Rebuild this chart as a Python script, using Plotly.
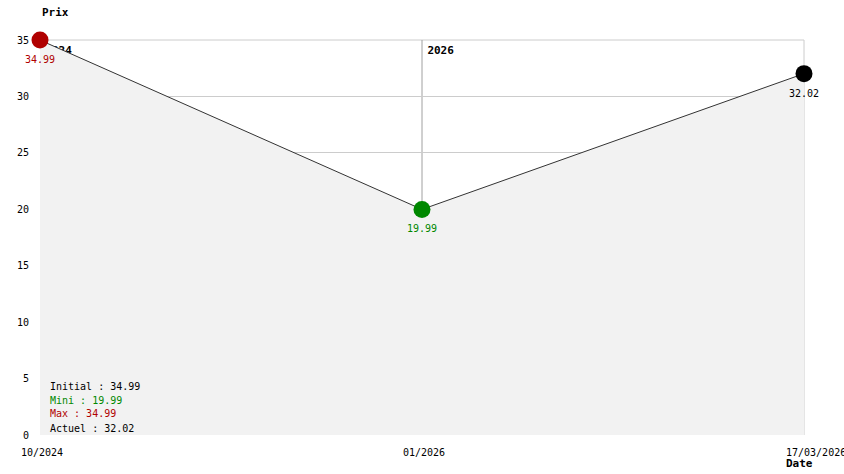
import plotly.graph_objects as go

# ---- data ----
x_index = [0, 1, 2]
date_labels = ["10/2024", "01/2026", "17/03/2026"]
prices = [34.99, 19.99, 32.02]
point_colors = ["#b00000", "#008800", "#000000"]
year_marks_x = [0, 1]
year_marks_text = ["2024", "2026"]
y_ticks = [0, 5, 10, 15, 20, 25, 30, 35]
summary_labels = ["Initial", "Mini", "Max", "Actuel"]
summary_values = [34.99, 19.99, 34.99, 32.02]
summary_colors = ["#000000", "#008800", "#b00000", "#000000"]

FONT = "DejaVu Sans Mono"
PW, PH = 764, 395  # plot area size in px
Y_MAX = 35

fig = go.Figure()

# year labels (drawn first so the area fill covers them, like the reference)
fig.add_trace(go.Scatter(
    x=year_marks_x, y=[Y_MAX * (1 - 11 / PH)] * len(year_marks_x), mode="markers+text",
    marker=dict(size=7, color="rgba(0,0,0,0)", line=dict(width=0)),
    text=year_marks_text, textposition="middle right",
    textfont=dict(family=FONT, size=11, color="#000000", weight="bold"),
    cliponaxis=False, showlegend=False, hoverinfo="skip",
))

# area + line
fig.add_trace(go.Scatter(
    x=x_index, y=prices, mode="lines",
    line=dict(color="#333333", width=1),
    fill="tozeroy", fillcolor="#f2f2f2",
    hoverinfo="skip", showlegend=False,
))

# markers
fig.add_trace(go.Scatter(
    x=x_index, y=prices, mode="markers",
    marker=dict(size=17, color=point_colors, line=dict(width=0)),
    cliponaxis=False, showlegend=False,
))

# value labels (invisible larger markers give the label offset)
fig.add_trace(go.Scatter(
    x=x_index, y=prices, mode="markers+text",
    marker=dict(size=23, color="rgba(0,0,0,0)", line=dict(width=0)),
    text=[f"{v:.2f}" for v in prices],
    textposition="bottom center",
    textfont=dict(family=FONT, size=10, color=point_colors),
    cliponaxis=False, showlegend=False, hoverinfo="skip",
))

shapes = []
annotations = []

# frame lines at the top and right edges (grid at range limits)
shapes.append(dict(type="line", xref="paper", yref="paper", x0=0, x1=1, y0=1, y1=1,
                   line=dict(color="#cccccc", width=1), layer="below"))
shapes.append(dict(type="line", xref="paper", yref="paper", x0=1, x1=1, y0=0, y1=1,
                   line=dict(color="#cccccc", width=1), layer="below"))

# year separator lines
for xv in year_marks_x:
    shapes.append(dict(type="line", xref="x", yref="paper", x0=xv, x1=xv, y0=0, y1=1,
                       line=dict(color="#a0a0a0", width=1), layer="below"))

# x tick labels
x_anchor = ["center", "center", "left"]
x_shift = [2, 2, -20]
for xv, lab, xa, xs in zip(x_index, date_labels, x_anchor, x_shift):
    annotations.append(dict(x=xv, y=-17 / PH, xref="x", yref="paper",
                            text=lab, showarrow=False, xanchor=xa, yanchor="middle",
                            xshift=xs, font=dict(family=FONT, size=10, color="#000000")))

# summary block
ys = [49, 35, 22, 7]  # px above plot bottom
for lab, val, col, yp in zip(summary_labels, summary_values, summary_colors, ys):
    annotations.append(dict(x=8 / PW, y=yp / PH, xref="paper", yref="paper",
                            text=f"{lab} : {val:.2f}", showarrow=False, xanchor="left",
                            yanchor="middle", font=dict(family=FONT, size=10, color=col)))

# axis titles
annotations.append(dict(x=0, y=1 + 28 / PH, xref="paper", yref="paper",
                        text="<b>Prix</b>", showarrow=False, xanchor="left", yanchor="middle",
                        font=dict(family=FONT, size=11, color="#000000")))
annotations.append(dict(x=(784 - 40) / PW, y=-28 / PH, xref="paper", yref="paper",
                        text="<b>Date</b>", showarrow=False, xanchor="left", yanchor="middle",
                        font=dict(family=FONT, size=11, color="#000000")))

fig.update_layout(
    width=844, height=474, autosize=False,
    margin=dict(l=40, r=40, t=40, b=39, pad=0),
    paper_bgcolor="#ffffff", plot_bgcolor="#ffffff",
    shapes=shapes, annotations=annotations,
    xaxis=dict(range=[0, 2], tickvals=[0, 2], showticklabels=False, showgrid=True,
               gridcolor="#cccccc", gridwidth=1, zeroline=False, showline=False, ticks=""),
    yaxis=dict(range=[0, Y_MAX], tickvals=y_ticks, showgrid=True, gridcolor="#cccccc",
               gridwidth=1, zeroline=False, showline=False, ticks="outside", ticklen=8,
               tickcolor="rgba(0,0,0,0)",
               tickfont=dict(family=FONT, size=10, color="#000000")),
)

# remove the default 8px page margin so the figure sits at the window's top-left corner
fig.write_html("out.html", config={"displayModeBar": False},
               post_script="document.body.style.margin='0';")
